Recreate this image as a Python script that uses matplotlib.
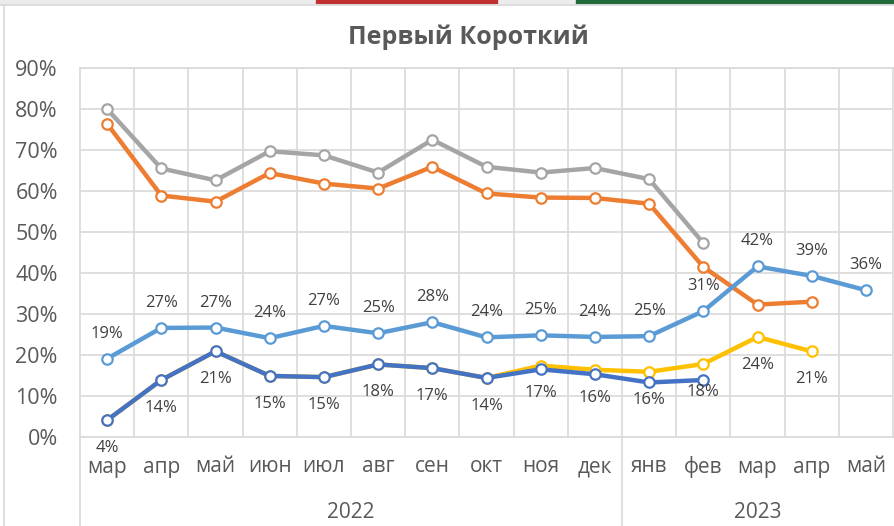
import matplotlib
matplotlib.use("Agg")
import matplotlib.pyplot as plt
import matplotlib.transforms as mtransforms
from matplotlib import ticker
from matplotlib.lines import Line2D
from matplotlib.patches import Rectangle
import numpy as np

plt.rcParams['font.family'] = ['Open Sans', 'DejaVu Sans']

# --- data (percent) ---
months = ['мар', 'апр', 'май', 'июн', 'июл', 'авг', 'сен', 'окт',
          'ноя', 'дек', 'янв', 'фев', 'мар', 'апр', 'май']
years = ['2022', '2023']
year_spans = [(0, 9), (10, 14)]

gray_vals = [80.0, 65.5, 62.6, 69.7, 68.7, 64.5, 72.5, 65.9, 64.5, 65.6,
             62.9, 47.3]
orange_vals = [76.4, 58.9, 57.4, 64.4, 61.8, 60.6, 65.9, 59.4, 58.4, 58.3,
               56.9, 41.5, 32.3, 33.0]
light_blue_vals = [19.1, 26.6, 26.7, 24.1, 27.1, 25.3, 28.0, 24.3, 24.8,
                   24.4, 24.6, 30.7, 41.6, 39.3, 35.8]
dark_blue_vals = [4.1, 13.9, 20.9, 14.9, 14.6, 17.7, 16.8, 14.4, 16.5, 15.3,
                  13.3, 13.9]
yellow_vals = [4.1, 13.9, 20.9, 14.9, 14.6, 17.7, 16.8, 14.4, 17.4, 16.4,
               15.9, 17.8, 24.4, 20.9]

GRID = '#d9d9d9'
TXT = '#595959'
LBL = '#404040'

W, H = 894, 526
fig = plt.figure(figsize=(W / 100, H / 100), dpi=100)

# screenshot frame bits around the chart
fig.patches.append(Rectangle((0, 1 - 4 / H), 1, 4 / H, transform=fig.transFigure,
                             color='#ececec', zorder=0))
fig.patches.append(Rectangle((316 / W, 1 - 3 / H), 181 / W, 3 / H,
                             transform=fig.transFigure, color='#c0302f', zorder=1))
fig.patches.append(Rectangle((576 / W, 1 - 3 / H), 318 / W, 3 / H,
                             transform=fig.transFigure, color='#1f6b3a', zorder=1))
fig.lines.append(Line2D([0, 1], [1 - 4.5 / H, 1 - 4.5 / H], transform=fig.transFigure,
                        color=GRID, lw=1.2))
fig.lines.append(Line2D([4 / W, 4 / W], [0, 1 - 4.5 / H], transform=fig.transFigure,
                        color=GRID, lw=1.2))

ax = fig.add_axes([80 / W, 1 - 437 / H, 813 / W, (437 - 68) / H])
ax.set_xlim(-0.5, len(months) - 0.5)
ax.set_ylim(0, 0.9)

# grid
ax.set_yticks(np.arange(0, 0.91, 0.1))
ax.yaxis.set_major_formatter(ticker.PercentFormatter(1.0, decimals=0))
ax.set_xticks(np.arange(0.5, len(months) - 1, 1.0))
ax.set_xticklabels([])
ax.grid(True, axis='both', color=GRID, lw=1.2)
ax.set_axisbelow(True)
for s in ax.spines.values():
    s.set_color(GRID)
    s.set_linewidth(1.2)
ax.tick_params(axis='y', length=0, pad=16, labelsize=15.5, labelcolor=TXT)
ax.tick_params(axis='x', length=0)

# series
x = np.arange(len(months))
series = [
    (gray_vals, '#a5a5a5'),
    (orange_vals, '#ed7d31'),
    (light_blue_vals, '#5b9bd5'),
    (yellow_vals, '#ffc000'),
    (dark_blue_vals, '#4472c4'),
]
for vals, col in series:
    v = np.array(vals) / 100
    ax.plot(x[:len(v)], v, color=col, lw=3.2, marker='o', markersize=7.5,
            markerfacecolor='white', markeredgecolor=col, markeredgewidth=1.6,
            clip_on=False)

# data labels
for i, v in enumerate(light_blue_vals):
    ax.annotate(f"{v:.0f}%", (i, v / 100), xytext=(0, 18), textcoords='offset points',
                ha='center', va='center', fontsize=12, color=LBL)
for i, v in enumerate(yellow_vals):
    ax.annotate(f"{v:.0f}%", (i, v / 100), xytext=(0, -20), textcoords='offset points',
                ha='center', va='center', fontsize=12, color=LBL)

# category axis: months and years
trans = mtransforms.blended_transform_factory(ax.transData, fig.transFigure)
for i, m in enumerate(months):
    ax.text(i, 1 - 467 / H, m, transform=trans, ha='center', va='center',
            fontsize=15, color=TXT)
for yr, (a, b) in zip(years, year_spans):
    ax.text((a + b) / 2, 1 - 512 / H, yr, transform=trans, ha='center', va='center',
            fontsize=15, color=TXT)
ax.add_line(Line2D([-0.5, -0.5], [0, 1 - 437 / H], transform=trans, color=GRID,
                   lw=1.2, clip_on=False))
ax.add_line(Line2D([9.5, 9.5], [0, 1 - 437 / H], transform=trans, color=GRID,
                   lw=1.2, clip_on=False))

fig.text(468 / W, 1 - 37 / H, 'Первый Короткий', ha='center',
         va='center', fontsize=18, fontweight='bold', color=TXT)

fig.savefig('out.png', dpi=100)
